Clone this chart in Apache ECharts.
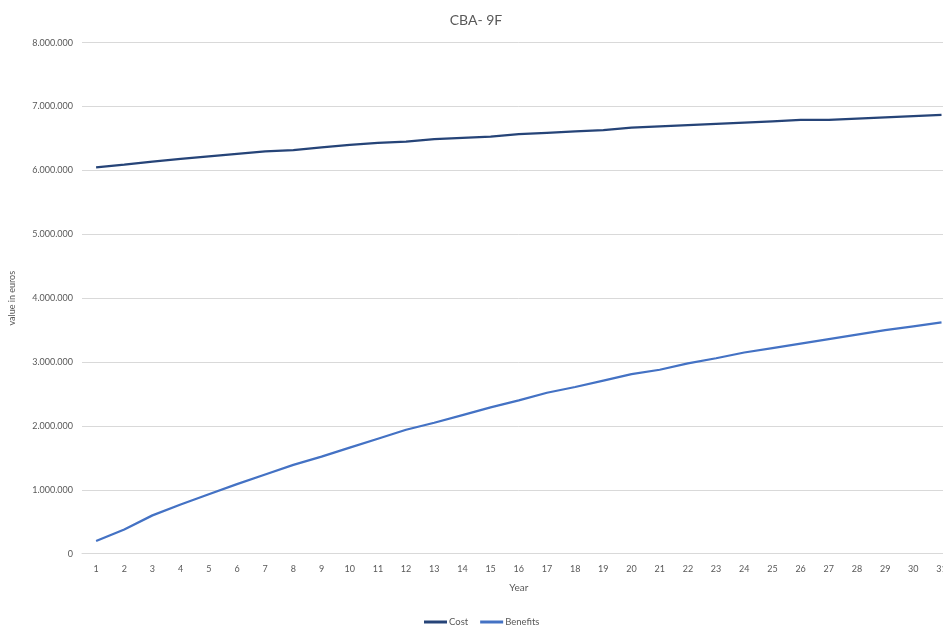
<!DOCTYPE html>
<html>
<head>
<meta charset="utf-8">
<script src="https://cdn.jsdelivr.net/npm/echarts@6/dist/echarts.min.js"></script>
<style>
  html, body { margin: 0; padding: 0; background: #ffffff; overflow: hidden; }
  #chart { width: 956px; height: 628px; }
</style>
</head>
<body>
<div id="chart"></div>
<script>
// Years of the cost-benefit horizon
const years = ['1','2','3','4','5','6','7','8','9','10','11','12','13','14','15','16',
  '17','18','19','20','21','22','23','24','25','26','27','28','29','30','31'];

// Cumulative cost per year (euros)
const cost = [6050000, 6090000, 6140000, 6180000, 6220000, 6260000, 6300000, 6320000,
  6360000, 6400000, 6430000, 6450000, 6490000, 6510000, 6530000, 6570000, 6590000,
  6610000, 6630000, 6670000, 6690000, 6710000, 6730000, 6750000, 6770000, 6790000,
  6790000, 6810000, 6830000, 6850000, 6870000];

// Cumulative benefits per year (euros)
const benefits = [200000, 380000, 600000, 770000, 930000, 1090000, 1240000, 1390000,
  1520000, 1660000, 1800000, 1940000, 2050000, 2170000, 2290000, 2400000, 2520000,
  2610000, 2710000, 2810000, 2880000, 2980000, 3060000, 3150000, 3220000, 3290000,
  3360000, 3430000, 3500000, 3560000, 3620000];

const seriesNames = ['Cost', 'Benefits'];
const seriesColors = ['#264478', '#4472C4'];

const textColor = '#595959';
const fontFamily = 'Lato, "Liberation Sans", sans-serif';

function euroFormat(v) {
  return String(Math.round(v)).replace(/\B(?=(\d{3})+(?!\d))/g, '.');
}

const chart = echarts.init(document.getElementById('chart'), null, { renderer: 'canvas' });

chart.setOption({
  animation: false,
  backgroundColor: '#ffffff',
  textStyle: { fontFamily: fontFamily },
  title: {
    text: 'CBA- 9F',
    left: 471,
    textAlign: 'center',
    top: 8,
    textStyle: { color: textColor, fontSize: 14, fontWeight: 'normal', fontFamily: fontFamily }
  },
  legend: {
    data: seriesNames,
    left: 419,
    top: 612,
    itemWidth: 23,
    itemHeight: 3,
    itemGap: 12,
    icon: 'rect',
    textStyle: { color: textColor, fontSize: 9.5, fontFamily: fontFamily, padding: [0, 0, 0, -3] }
  },
  grid: {
    left: 82,
    top: 42.7,
    bottom: 74.3,
    width: 873.6,
    containLabel: false
  },
  xAxis: {
    type: 'category',
    data: years,
    boundaryGap: true,
    name: 'Year',
    nameLocation: 'middle',
    nameGap: 29,
    nameTextStyle: { color: textColor, fontSize: 10, fontFamily: fontFamily },
    axisLine: { show: true, lineStyle: { color: '#d9d9d9', width: 1 } },
    axisTick: { show: false },
    axisLabel: { color: textColor, fontSize: 9, margin: 11, fontFamily: fontFamily },
    splitLine: { show: false }
  },
  yAxis: {
    type: 'value',
    min: 0,
    max: 8000000,
    interval: 1000000,
    name: 'value in euros',
    nameLocation: 'middle',
    nameRotate: 90,
    nameGap: 65,
    nameTextStyle: { color: textColor, fontSize: 9, fontFamily: fontFamily },
    axisLine: { show: false },
    axisTick: { show: false },
    axisLabel: { color: textColor, fontSize: 9, margin: 9, formatter: euroFormat, fontFamily: fontFamily },
    splitLine: { show: true, lineStyle: { color: '#d9d9d9', width: 1 } }
  },
  series: [
    {
      name: seriesNames[0],
      type: 'line',
      data: cost,
      symbol: 'none',
      smooth: false,
      lineStyle: { color: seriesColors[0], width: 2.25 },
      itemStyle: { color: seriesColors[0] }
    },
    {
      name: seriesNames[1],
      type: 'line',
      data: benefits,
      symbol: 'none',
      smooth: false,
      lineStyle: { color: seriesColors[1], width: 2.25 },
      itemStyle: { color: seriesColors[1] }
    }
  ]
});
</script>
</body>
</html>
